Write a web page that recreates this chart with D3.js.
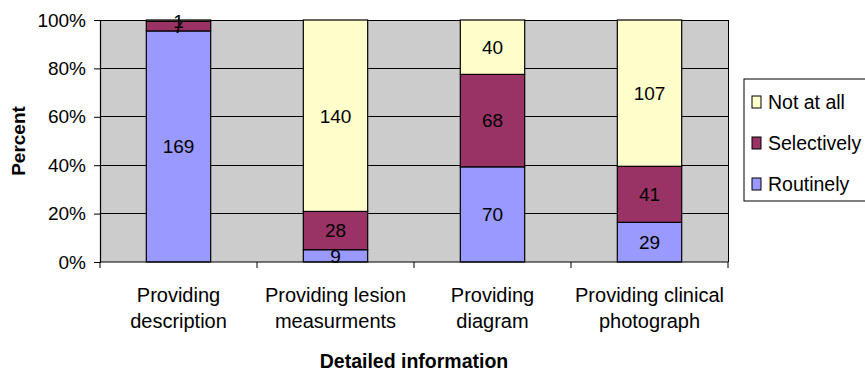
<!DOCTYPE html>
<html>
<head>
<meta charset="utf-8">
<script src="https://cdn.jsdelivr.net/npm/d3@7"></script>
<style>
  html, body { margin: 0; padding: 0; background: #ffffff; }
  svg { display: block; font-family: Arial, "Liberation Sans", Helvetica, sans-serif; }
</style>
</head>
<body>
<svg id="chart" width="865" height="373"></svg>
<script>
// Categories (two-line labels) and counts per response
const categories = [
  ["Providing", "description"],
  ["Providing lesion", "measurments"],
  ["Providing", "diagram"],
  ["Providing clinical", "photograph"]
];
const routinely   = [169, 9, 70, 29];
const selectively = [7, 28, 68, 41];
const notAtAll    = [1, 140, 40, 107];
const seriesNames = ["Routinely", "Selectively", "Not at all"];
const seriesColors = ["#9999ff", "#993366", "#ffffcc"];
const yTicks = [0, 0.2, 0.4, 0.6, 0.8, 1.0];

const svg = d3.select("#chart");
const margin = { left: 100, right: 137, top: 20, bottom: 111 };
const W = 865, H = 373;
const plotW = W - margin.left - margin.right;
const plotH = H - margin.top - margin.bottom;

const keys = categories.map((c, i) => i);
const x = d3.scaleBand().domain(keys).range([margin.left, margin.left + plotW]).padding(0);
const y = d3.scaleLinear().domain([0, 1]).range([margin.top + plotH, margin.top]);

// Build 100% stacked rows
const rows = keys.map(i => {
  const total = routinely[i] + selectively[i] + notAtAll[i];
  return { i, Routinely: routinely[i] / total, Selectively: selectively[i] / total, "Not at all": notAtAll[i] / total,
           counts: { Routinely: routinely[i], Selectively: selectively[i], "Not at all": notAtAll[i] } };
});
const stack = d3.stack().keys(seriesNames)(rows);

// Plot background
svg.append("rect")
  .attr("x", margin.left).attr("y", margin.top)
  .attr("width", plotW).attr("height", plotH)
  .attr("fill", "#cccccc");

// Horizontal gridlines
svg.append("g").selectAll("line").data(yTicks.slice(1)).join("line")
  .attr("x1", margin.left).attr("x2", margin.left + plotW)
  .attr("y1", d => y(d)).attr("y2", d => y(d))
  .attr("stroke", "#000").attr("stroke-width", 1).attr("shape-rendering", "crispEdges");

// Right border of plot area
svg.append("line")
  .attr("x1", margin.left + plotW).attr("x2", margin.left + plotW)
  .attr("y1", margin.top).attr("y2", margin.top + plotH)
  .attr("stroke", "#000").attr("shape-rendering", "crispEdges");

// Bars
const barW = x.bandwidth() * 0.41;
const layers = svg.append("g").selectAll("g").data(stack).join("g")
  .attr("fill", (d, k) => seriesColors[k]);
layers.selectAll("rect").data(d => d.map(v => ({ v, key: d.key }))).join("rect")
  .attr("x", d => x(d.v.data.i) + (x.bandwidth() - barW) / 2)
  .attr("width", barW)
  .attr("y", d => y(d.v[1]))
  .attr("height", d => y(d.v[0]) - y(d.v[1]))
  .attr("stroke", "#000").attr("stroke-width", 1.2);

// Value labels
layers.selectAll("text").data(d => d.map(v => ({ v, key: d.key }))).join("text")
  .attr("x", d => x(d.v.data.i) + x.bandwidth() / 2)
  .attr("y", d => y((d.v[0] + d.v[1]) / 2))
  .attr("dy", "0.36em")
  .attr("text-anchor", "middle")
  .attr("font-size", 19)
  .attr("fill", "#000")
  .text(d => d.v.data.counts[d.key]);

// Y axis
const yAxis = svg.append("g")
  .attr("transform", `translate(${margin.left},0)`)
  .call(d3.axisLeft(y).tickValues(yTicks).tickFormat(d3.format(".0%")).tickSize(6).tickPadding(8));
yAxis.select(".domain").attr("stroke", "#000").attr("stroke-width", 1.2);
yAxis.selectAll(".tick line").attr("stroke", "#000");
yAxis.selectAll("text").attr("font-size", 19).attr("fill", "#000").attr("font-family", "Arial, 'Liberation Sans', sans-serif");

// X axis with ticks at category boundaries
const xAxisG = svg.append("g");
xAxisG.append("line")
  .attr("x1", margin.left).attr("x2", margin.left + plotW)
  .attr("y1", y(0)).attr("y2", y(0))
  .attr("stroke", "#000").attr("stroke-width", 1.2);
const bounds = keys.map(i => x(i)).concat([x(keys[keys.length - 1]) + x.bandwidth()]);
xAxisG.selectAll("line.tk").data(bounds).join("line").attr("class", "tk")
  .attr("x1", d => d).attr("x2", d => d)
  .attr("y1", y(0)).attr("y2", y(0) + 6)
  .attr("stroke", "#000");

// Category labels
const catLabels = svg.append("g").selectAll("text").data(keys).join("text")
  .attr("x", i => x(i) + x.bandwidth() / 2)
  .attr("y", 302)
  .attr("text-anchor", "middle")
  .attr("font-size", 20)
  .attr("fill", "#000");
catLabels.selectAll("tspan").data(i => categories[i]).join("tspan")
  .attr("x", function () { return d3.select(this.parentNode).attr("x"); })
  .attr("dy", (d, j) => j === 0 ? 0 : 26)
  .text(d => d);

// Axis titles
svg.append("text")
  .attr("x", margin.left + plotW / 2).attr("y", 368)
  .attr("text-anchor", "middle").attr("font-size", 19.5).attr("font-weight", "bold")
  .text("Detailed information");
svg.append("text")
  .attr("transform", `translate(25,${margin.top + plotH / 2}) rotate(-90)`)
  .attr("text-anchor", "middle").attr("font-size", 19).attr("font-weight", "bold")
  .text("Percent");

// Legend (top-down order: Not at all, Selectively, Routinely)
const legend = svg.append("g").attr("transform", "translate(744,79)");
legend.append("rect")
  .attr("x", 0).attr("y", 0).attr("width", 140).attr("height", 122)
  .attr("fill", "#fff").attr("stroke", "#000").attr("stroke-width", 1);
const order = [2, 1, 0];
const items = legend.selectAll("g.item").data(order).join("g").attr("class", "item")
  .attr("transform", (k, j) => `translate(0,${23 + j * 41})`);
items.append("rect")
  .attr("x", 8).attr("y", -6).attr("width", 9).attr("height", 12)
  .attr("fill", k => seriesColors[k]).attr("stroke", "#000").attr("stroke-width", 1);
items.append("text")
  .attr("x", 24).attr("y", 0).attr("dy", "0.36em")
  .attr("font-size", 19.5).attr("fill", "#000")
  .text(k => seriesNames[k]);
</script>
</body>
</html>
